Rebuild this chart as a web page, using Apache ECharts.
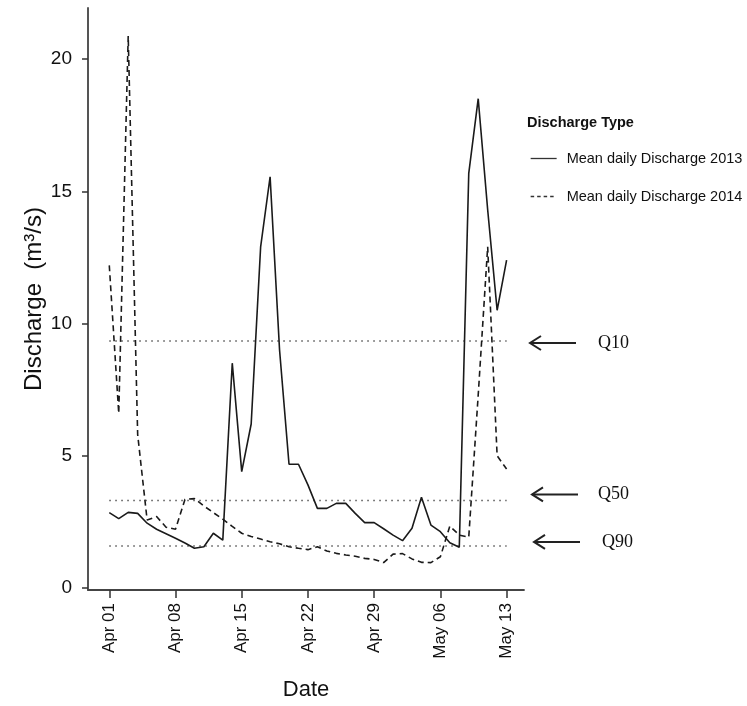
<!DOCTYPE html>
<html>
<head>
<meta charset="utf-8">
<script src="https://cdn.jsdelivr.net/npm/echarts@6/dist/echarts.min.js"></script>
<style>
  html, body { margin: 0; padding: 0; background: #fff; }
  #chart { width: 747px; height: 706px; }
</style>
</head>
<body>
<div id="chart"></div>
<script>
// days since Apr 01, one value per day
var discharge2013 = [2.85, 2.62, 2.86, 2.82, 2.45, 2.22, 2.05, 1.88, 1.70, 1.50,
  1.56, 2.07, 1.81, 8.5, 4.4, 6.2, 12.9, 15.55, 9.0, 4.68,
  4.68, 3.9, 3.01, 3.01, 3.2, 3.2, 2.82, 2.47, 2.47, 2.24,
  2.0, 1.79, 2.26, 3.43, 2.38, 2.13, 1.71, 1.54, 15.68, 18.5,
  14.3, 10.5, 12.4]
var discharge2014 = [12.2, 6.6, 20.87, 5.8, 2.57, 2.7, 2.3, 2.22, 3.35, 3.38,
  3.1, 2.85, 2.6, 2.33, 2.07, 1.95, 1.85, 1.75, 1.67, 1.56,
  1.5, 1.45, 1.56, 1.4, 1.31, 1.25, 1.2, 1.12, 1.08, 0.96,
  1.28, 1.3, 1.1, 0.97, 0.96, 1.18, 2.34, 2.0, 1.92, 7.3,
  12.9, 5.0, 4.5]
var tickDays = [0, 7, 14, 21, 28, 35, 42]
var tickLabels = ['Apr 01', 'Apr 08', 'Apr 15', 'Apr 22', 'Apr 29', 'May 06', 'May 13']
var yTicks = [0, 5, 10, 15, 20]
var qNames = ['Q10', 'Q50', 'Q90']
var qValues = [9.34, 3.31, 1.59]
var seriesNames = ['Mean daily Discharge 2013', 'Mean daily Discharge 2014']

var sans = '"Liberation Sans", Arial, sans-serif'
var serif = '"Liberation Serif", "Times New Roman", serif'

function toPairs (arr) {
  return arr.map(function (v, i) { return [i, v] })
}

var myChart = echarts.init(document.getElementById('chart'))

var qSeries = qValues.map(function (q, i) {
  return {
    name: qNames[i],
    type: 'line',
    symbol: 'none',
    silent: true,
    lineStyle: { color: '#555', width: 1.5, type: [1.5, 4.5] },
    data: [[tickDays[0], q], [tickDays[tickDays.length - 1], q]]
  }
})

myChart.setOption({
  animation: false,
  backgroundColor: '#fff',
  grid: { left: 88, right: 223, top: 8, bottom: 116, outerBoundsMode: 'none' },
  legend: {
    data: [
      { name: seriesNames[0], lineStyle: { color: '#333', width: 1.3, type: 'solid' } },
      { name: seriesNames[1], lineStyle: { color: '#333', width: 1.3, type: [3.5, 3] } }
    ],
    orient: 'vertical',
    left: 530,
    top: 151,
    padding: 0,
    itemWidth: 26,
    itemHeight: 14,
    itemGap: 23,
    itemStyle: { opacity: 0, color: 'rgba(0,0,0,0)', borderWidth: 0 },
    textStyle: { fontFamily: sans, fontSize: 14.5, color: '#111', padding: [0, 0, 0, 5] }
  },
  xAxis: {
    type: 'value',
    min: -2.25,
    max: 43.84,
    name: 'Date',
    nameLocation: 'middle',
    nameGap: 89,
    nameMoveOverlap: false,
    nameTextStyle: { fontFamily: sans, fontSize: 22, color: '#111' },
    axisLine: { onZero: false, lineStyle: { color: '#444', width: 1.8 } },
    axisTick: { customValues: tickDays, length: 8, lineStyle: { color: '#333', width: 1.5 } },
    axisLabel: {
      customValues: tickDays,
      rotate: 90,
      margin: 13,
      fontFamily: sans,
      fontSize: 17,
      color: '#111',
      formatter: function (v) { return tickLabels[tickDays.indexOf(v)] }
    },
    splitLine: { show: false }
  },
  yAxis: {
    type: 'value',
    min: -0.076,
    max: 21.93,
    name: 'Discharge  (m³/s)',
    nameLocation: 'middle',
    nameGap: 42,
    nameMoveOverlap: false,
    nameTextStyle: { fontFamily: sans, fontSize: 24, color: '#111' },
    axisLine: { show: true, onZero: false, lineStyle: { color: '#555', width: 2 } },
    axisTick: { show: true, customValues: yTicks, length: 6, lineStyle: { color: '#333', width: 1.5 } },
    axisLabel: {
      customValues: yTicks,
      margin: 16,
      fontFamily: sans,
      fontSize: 19,
      color: '#111'
    },
    splitLine: { show: false }
  },
  series: qSeries.concat([
    {
      name: seriesNames[0],
      type: 'line',
      symbol: 'none',
      lineStyle: { color: '#1a1a1a', width: 1.6, type: 'solid' },
      itemStyle: { color: '#1a1a1a' },
      data: toPairs(discharge2013)
    },
    {
      name: seriesNames[1],
      type: 'line',
      symbol: 'none',
      lineStyle: { color: '#1a1a1a', width: 1.6, type: [6, 4] },
      itemStyle: { color: '#1a1a1a' },
      data: toPairs(discharge2014)
    }
  ])
})

// annotations: legend title, arrows pointing at the Q lines
var arrowDy = [2, -6, -4]
var labelDx = [0, 0, 4]
var graphics = [{
  type: 'text',
  left: 527,
  top: 115,
  style: { text: 'Discharge Type', font: 'bold 14.5px ' + sans, fill: '#111' }
}]
qValues.forEach(function (q, i) {
  var y = myChart.convertToPixel({ yAxisIndex: 0 }, q) + arrowDy[i]
  var x0 = 530 + i * 2
  var x1 = 576 + i * 2
  graphics.push({
    type: 'line',
    shape: { x1: x0, y1: y, x2: x1, y2: y },
    style: { stroke: '#222', lineWidth: 2 }
  })
  graphics.push({
    type: 'polyline',
    shape: { points: [[x0 + 11, y - 7], [x0, y], [x0 + 11, y + 7]] },
    style: { stroke: '#222', lineWidth: 2, fill: null }
  })
  graphics.push({
    type: 'text',
    x: 598 + labelDx[i],
    y: y,
    style: { text: qNames[i], font: '18px ' + serif, fill: '#111', verticalAlign: 'middle' }
  })
})
myChart.setOption({ graphic: graphics })
</script>
</body>
</html>
